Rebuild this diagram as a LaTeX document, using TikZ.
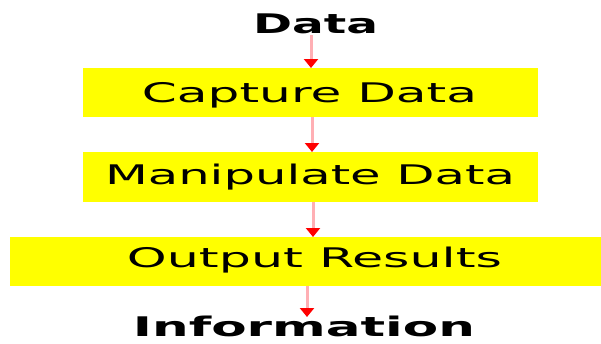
\documentclass[tikz,border=0pt]{standalone}
\usepackage{fontspec}
\setmainfont{DejaVu Sans}
\usetikzlibrary{arrows.meta}
\definecolor{boxyellow}{RGB}{255,255,0}
\definecolor{linkpink}{RGB}{255,175,180}
\tikzset{
  stagebox/.style={fill=boxyellow,draw=none,inner sep=0pt,outer sep=0pt},
  label text/.style={inner sep=0pt,outer sep=0pt,anchor=base,text=black},
  flow/.style={draw=linkpink,line width=3pt,-{Triangle[width=14pt,length=9pt,color=red,fill=red]},shorten >=0pt}
}
\newcommand{\wtext}[2]{\resizebox{#1pt}{\height}{\fontsize{27}{27}\selectfont #2}}
\begin{document}
\begin{tikzpicture}[x=1pt,y=-1pt]
\useasboundingbox (0,0) rectangle (601,343);
% boxes
\node[stagebox,minimum width=455pt,minimum height=49pt] (cap) at (310.5,92.5) {};
\node[stagebox,minimum width=455pt,minimum height=50pt] (man) at (310.5,177) {};
\node[stagebox,minimum width=591pt,minimum height=49pt] (out) at (305.5,261.5) {};
% texts
\node[label text] (data) at (315.5,33) {\wtext{125}{\bfseries Data}};
\node[label text] (captxt) at (309.5,102) {\wtext{335}{Capture Data}};
\node[label text] (mantxt) at (310,184) {\wtext{410}{Manipulate Data}};
\node[label text] (outtxt) at (314.5,267) {\wtext{375}{Output Results}};
\node[label text] (info) at (304,336) {\wtext{342}{\bfseries Information}};
% arrow columns
\coordinate (a1) at (311,35);
\coordinate (a2) at (312,0);
\coordinate (a3) at (313,0);
\coordinate (a4) at (307,0);
\coordinate (infotop) at (307,317);
\draw[flow] (a1) -- (cap.north -| a1);
\draw[flow] (cap.south -| a2) -- (man.north -| a2);
\draw[flow] (man.south -| a3) -- (out.north -| a3);
\draw[flow] (out.south -| a4) -- (infotop);
\end{tikzpicture}
\end{document}
